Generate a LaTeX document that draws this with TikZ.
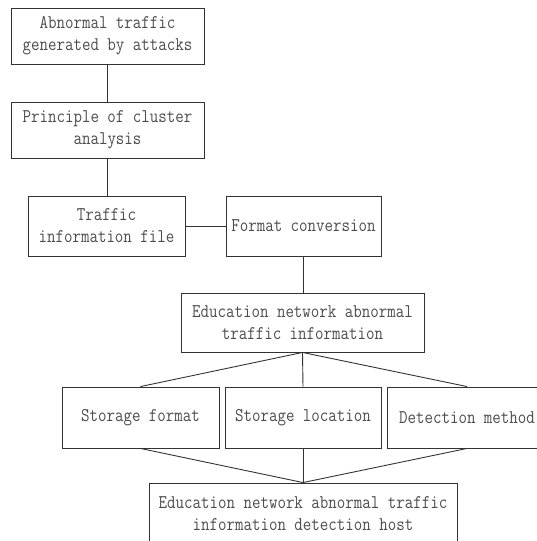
\documentclass[tikz,border=0pt]{standalone}
\usepackage{fontspec}
\setmonofont{Latin Modern Mono}[FakeStretch=0.85]

\tikzset{
    box/.style={draw=black!80, line width=0.9pt, text=black!70, align=center,
        inner sep=0pt, font=\ttfamily\fontsize{19.4}{22}\selectfont},
    link/.style={draw=black!80, line width=0.9pt}
}

\begin{document}
\begin{tikzpicture}[x=1pt, y=-1pt]

    % ===== Page frame (537 x 541) =====
    \clip (0,0) rectangle (537,541);

    % ===== Upper chain =====
    \node[box, minimum width=193pt, minimum height=56pt] (attack) at (107.5,36)
        {Abnormal traffic\\generated by attacks};
    \node[box, minimum width=193pt, minimum height=56pt] (cluster) at (107.5,130)
        {Principle of cluster\\analysis};
    \node[box, minimum width=157pt, minimum height=60pt] (file) at (106.5,226)
        {Traffic\\information file};
    \node[box, minimum width=155pt, minimum height=60pt] (convert) at (303.5,226)
        {Format conversion};
    \node[box, minimum width=243pt, minimum height=59pt] (info) at (302.5,322.5)
        {Education network abnormal\\traffic information};

    % ===== Three attributes =====
    \node[box, minimum width=157pt, minimum height=61pt] (format) at (140.5,417.5)
        {Storage format};
    \node[box, minimum width=156pt, minimum height=61pt] (location) at (303,417.5)
        {Storage location};
    \node[box, minimum width=160pt, minimum height=61pt] (method) at (467,417.5)
        {Detection method};

    % ===== Host =====
    \node[box, minimum width=308pt, minimum height=62pt] (host) at (303,514)
        {Education network abnormal traffic\\information detection host};

    % ===== Connectors =====
    \draw[link] (attack.south) -- (cluster.north);
    \draw[link] (cluster.south) -- (cluster.south |- file.north);
    \draw[link] (file.east) -- (convert.west);
    \draw[link] (convert.south) -- (convert.south |- info.north);
    \foreach \n in {format,location,method} {
        \draw[link] (info.south) -- (\n.north);
        \draw[link] (\n.south) -- (host.north);
    }

\end{tikzpicture}
\end{document}
